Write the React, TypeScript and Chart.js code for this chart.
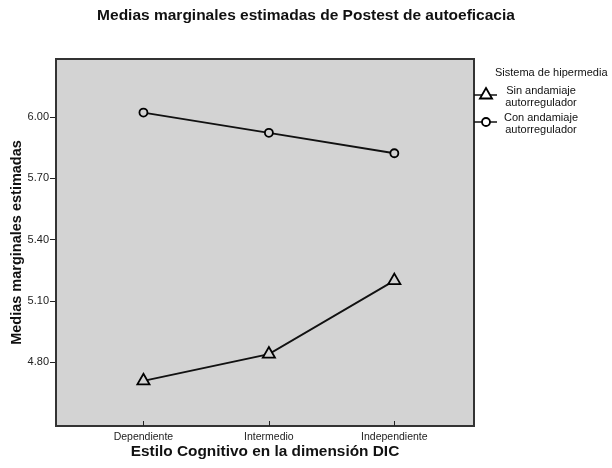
import React, { useEffect, useRef } from 'react';
import { Chart, registerables } from 'chart.js';
import { drawPoint } from 'chart.js/helpers';

Chart.register(...registerables);

const categories = ['Dependiente', 'Intermedio', 'Independiente'];
const sinAndamiaje = [4.71, 4.841, 5.2];
const conAndamiaje = [6.022, 5.923, 5.823];
const yTicks = [4.8, 5.1, 5.4, 5.7, 6.0];
const seriesNames = [
  ['Sin andamiaje', 'autorregulador'],
  ['Con andamiaje', 'autorregulador'],
];
const seriesStyles = ['triangle', 'circle'];
const legendTitle = 'Sistema de hipermedia';
const chartTitle = 'Medias marginales estimadas de Postest de autoeficacia';
const xTitle = 'Estilo Cognitivo en la dimensión DIC';
const yTitle = 'Medias marginales estimadas';

const FONT = "'Liberation Sans', Arial, sans-serif";
const PLOT_BG = '#d3d3d3';

const framePlugin = {
  id: 'frame',
  beforeDraw(chart: any) {
    const { ctx, chartArea: ca } = chart;
    ctx.save();
    ctx.fillStyle = PLOT_BG;
    ctx.fillRect(ca.left, ca.top, ca.right - ca.left, ca.bottom - ca.top);
    ctx.restore();
  },
  afterDatasetsDraw(chart: any) {
    const { ctx, chartArea: ca } = chart;
    ctx.save();
    ctx.strokeStyle = '#333';
    ctx.lineWidth = 2;
    ctx.strokeRect(ca.left, ca.top, ca.right - ca.left, ca.bottom - ca.top);
    const xs = chart.scales.x;
    ctx.lineWidth = 1;
    ctx.strokeStyle = '#222';
    xs.ticks.forEach((t: any) => {
      const px = Math.round(xs.getPixelForValue(t.value)) + 0.5;
      ctx.beginPath();
      ctx.moveTo(px, ca.bottom - 5);
      ctx.lineTo(px, ca.bottom);
      ctx.stroke();
    });
    ctx.restore();
  },
  afterDraw(chart: any) {
    const { ctx, chartArea: ca } = chart;
    ctx.save();
    ctx.fillStyle = '#111';
    ctx.font = `11px ${FONT}`;
    ctx.textBaseline = 'middle';
    ctx.textAlign = 'left';
    ctx.fillText(legendTitle, ca.right + 21, 73);
    const itemYs = [95, 122];
    chart.data.datasets.forEach((ds: any, i: number) => {
      const y = itemYs[i];
      ctx.strokeStyle = '#111';
      ctx.lineWidth = 1.5;
      ctx.beginPath();
      ctx.moveTo(ca.right, y);
      ctx.lineTo(ca.right + 23, y);
      ctx.stroke();
      ctx.fillStyle = '#fff';
      ctx.strokeStyle = '#000';
      ctx.lineWidth = 1.8;
      drawPoint(ctx, { pointStyle: ds.pointStyle, radius: ds.pointRadius, rotation: 0, borderWidth: 1.8 } as any, ca.right + 12, y);
      ctx.fillStyle = '#111';
      ctx.textAlign = 'center';
      ctx.fillText(seriesNames[i][0], ca.right + 67, y - 4);
      ctx.fillText(seriesNames[i][1], ca.right + 67, y + 7.5);
    });
    ctx.restore();
  },
};

export default function App() {
  const canvasRef = useRef<HTMLCanvasElement | null>(null);

  useEffect(() => {
    if (!canvasRef.current) return;
    const makeData = (vals: number[]) => categories.map((_, i) => ({ x: i + 1, y: vals[i] }));
    const chart = new Chart(canvasRef.current, {
      type: 'line',
      data: {
        datasets: [
          {
            label: seriesNames[0].join(' '),
            data: makeData(sinAndamiaje),
            borderColor: '#111',
            borderWidth: 1.8,
            tension: 0,
            pointStyle: seriesStyles[0] as any,
            pointRadius: 7,
            pointBorderWidth: 1.8,
            pointBorderColor: '#000',
            pointBackgroundColor: PLOT_BG,
            yAxisID: 'y',
          },
          {
            label: seriesNames[1].join(' '),
            data: makeData(conAndamiaje),
            borderColor: '#111',
            borderWidth: 1.8,
            tension: 0,
            pointStyle: seriesStyles[1] as any,
            pointRadius: 4,
            pointBorderWidth: 1.8,
            pointBorderColor: '#000',
            pointBackgroundColor: PLOT_BG,
            yAxisID: 'y',
          },
        ],
      },
      options: {
        animation: false,
        responsive: false,
        devicePixelRatio: 1,
        layout: { padding: 0 },
        plugins: {
          legend: { display: false },
          tooltip: { enabled: false },
          title: {
            display: true,
            text: chartTitle,
            color: '#111',
            font: { family: FONT, size: 15.5, weight: 'bold' },
            padding: { top: 6.7, bottom: 33.7 },
          },
        },
        scales: {
          x: {
            type: 'linear',
            min: 0.303,
            max: 3.635,
            afterBuildTicks: (s: any) => {
              s.ticks = categories.map((_, i) => ({ value: i + 1 }));
            },
            afterFit: (s: any) => {
              s.height = 42;
            },
            grid: { display: false, drawTicks: false },
            border: { display: false },
            ticks: {
              callback: (v: any) => categories[Math.round(Number(v)) - 1] ?? '',
              font: { family: FONT, size: 10.5 },
              color: '#222',
              padding: 5,
              autoSkip: false,
              maxRotation: 0,
            },
            title: {
              display: true,
              text: xTitle,
              color: '#111',
              font: { family: FONT, size: 15.4, weight: 'bold' },
              padding: { top: 0, bottom: 6.8 },
            },
          },
          y: {
            type: 'linear',
            position: 'left',
            min: 4.489,
            max: 6.284,
            afterBuildTicks: (s: any) => {
              s.ticks = yTicks.map((v) => ({ value: v }));
            },
            afterFit: (s: any) => {
              s.width = 56;
            },
            grid: { drawOnChartArea: false, drawTicks: true, tickLength: 6, color: '#222' },
            border: { display: false },
            ticks: {
              callback: (v: any) => Number(v).toFixed(2),
              font: { family: FONT, size: 11 },
              color: '#222',
              padding: 1,
            },
            title: {
              display: true,
              text: yTitle,
              color: '#111',
              font: { family: FONT, size: 14.5, weight: 'bold' },
              padding: { top: 8.3, bottom: 0 },
            },
          },
          yRight: {
            type: 'linear',
            position: 'right',
            display: true,
            grid: { display: false, drawTicks: false },
            border: { display: false },
            ticks: { display: false },
            afterFit: (s: any) => {
              s.width = 138;
            },
          },
        },
      },
      plugins: [framePlugin],
    } as any);
    return () => chart.destroy();
  }, []);

  return (
    <div style={{ position: 'absolute', left: 0, top: 0, width: 612, height: 468, background: '#fff' }}>
      <canvas ref={canvasRef} width={612} height={468} />
    </div>
  );
}
